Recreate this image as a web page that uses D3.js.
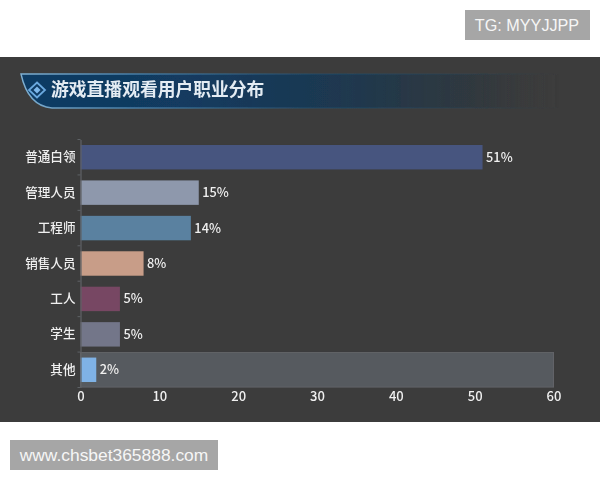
<!DOCTYPE html>
<html><head><meta charset="utf-8">
<script src="https://cdn.jsdelivr.net/npm/d3@7/dist/d3.min.js"></script>
<style>html,body{margin:0;padding:0;background:#fff}svg{display:block}</style></head>
<body><svg id="c" width="600" height="480"></svg>
<script>
const categories = ["普通白领","管理人员","工程师","销售人员","工人","学生","其他"];
const values = [51,15,14,8,5,5,2];
const colors = ["#47557f","#8e98ac","#5a81a0","#c89d88","#774763","#737689","#7fb2e6"];
const xTicks = [0,10,20,30,40,50,60];
const highlight = "其他";
const xMax = 60;
const title = "游戏直播观看用户职业分布";
const tagTop = "TG: MYYJJPP";
const tagBottom = "www.chsbet365888.com";
const cjk = "'Noto Sans CJK SC','Noto Sans',sans-serif";

const svg = d3.select("#c");
const defs = svg.append("defs");
const g1 = defs.append("linearGradient").attr("id","banner");
[[0,"#0f3a63",1],[0.3,"#123a60",1],[0.6,"#1b3850",0.95],[0.85,"#2d373f",0.7],[1,"#3a3a3a",0]].forEach(s=>g1.append("stop").attr("offset",s[0]).attr("stop-color",s[1]).attr("stop-opacity",s[2]));
const g2 = defs.append("linearGradient").attr("id","edge");
[[0,"#7fb0d2",1],[0.2,"#4c86b0",.9],[0.55,"#24506f",.5],[1,"#24506f",0]].forEach(s=>g2.append("stop").attr("offset",s[0]).attr("stop-color",s[1]).attr("stop-opacity",s[2]));
const blur = defs.append("filter").attr("id","soft").attr("x","-5%").attr("y","-5%").attr("width","110%").attr("height","110%");
blur.append("feGaussianBlur").attr("stdDeviation",0.45);

svg.append("rect").attr("x",0).attr("y",57).attr("width",600).attr("height",365).attr("fill","#3c3c3c");

// banner
const banner = svg.append("g").attr("filter","url(#soft)");
banner.append("path").attr("d","M21 74 H560 V108 H52 Q28 106 21 74 Z").attr("fill","url(#banner)");
banner.append("path").attr("d","M560 74 H21 Q28 106 52 108 H560").attr("fill","none").attr("stroke","url(#edge)").attr("stroke-width",1.4);
banner.append("path").attr("d","M37 82.5 L45 90 L37 97.5 L29 90 Z").attr("fill","none").attr("stroke","#6aa9df").attr("stroke-width",1.8);
banner.append("path").attr("d","M37 86.5 L40.5 90 L37 93.5 L33.5 90 Z").attr("fill","#7db7ea");
banner.append("text").attr("x",51).attr("y",96).attr("font-family",cjk).attr("font-size",17.8).attr("font-weight",700).attr("fill","#e4ecf3").text(title);

// chart
const x = d3.scaleLinear().domain([0,xMax]).range([80.5,553.5]);
const y = d3.scaleBand().domain(categories).range([139.5,387.5]).paddingInner(0.31).paddingOuter(0.155);
const chart = svg.append("g").attr("filter","url(#soft)");

const step = y.step();
chart.selectAll("rect.bg").data(categories.filter(c=>c===highlight)).join("rect").attr("class","bg")
  .attr("x",x(0)).attr("width",x(xMax)-x(0))
  .attr("y",c=>y(c)+y.bandwidth()/2-17.3).attr("height",34.6)
  .attr("fill","#575a5e").attr("stroke","#626467").attr("stroke-width",1);

chart.selectAll("rect.bar").data(categories).join("rect").attr("class","bar")
  .attr("x",x(0)).attr("y",c=>y(c))
  .attr("width",(c,i)=>x(values[i])-x(0)).attr("height",y.bandwidth())
  .attr("fill",(c,i)=>colors[i]);

chart.selectAll("text.val").data(categories).join("text").attr("class","val")
  .attr("x",(c,i)=>x(values[i])+3.5).attr("y",c=>y(c)+y.bandwidth()/2+4.5)
  .attr("font-family",cjk).attr("font-size",12.8).attr("font-weight",500).attr("fill","#f0f0f0")
  .text((c,i)=>values[i]+"%");

const yAxis = chart.append("g").attr("transform","translate(80.5,0)").call(d3.axisLeft(y).tickSize(0).tickPadding(5));
yAxis.select(".domain").attr("stroke","#5f6266").attr("stroke-width",1.2);
yAxis.selectAll("text").attr("font-family",cjk).attr("font-size",12.6).attr("font-weight",500).attr("fill","#f0f0f0");
chart.selectAll("line.sep").data(d3.range(categories.length+1)).join("line").attr("class","sep")
  .attr("x1",77.5).attr("x2",80.5)
  .attr("y1",i=>139.5+i*step).attr("y2",i=>139.5+i*step)
  .attr("stroke","#5f6266");

const xAxis = chart.append("g").attr("transform","translate(0,387)").call(d3.axisBottom(x).tickValues(xTicks).tickSize(0).tickPadding(5));
xAxis.select(".domain").remove();
xAxis.selectAll("text").attr("font-family",cjk).attr("font-size",13).attr("font-weight",500).attr("fill","#f0f0f0");

// watermarks
svg.append("rect").attr("x",465).attr("y",10).attr("width",125).attr("height",30).attr("fill","#a6a6a6");
svg.append("text").attr("x",527).attr("y",31).attr("text-anchor","middle").attr("font-family","'Liberation Sans',sans-serif").attr("font-size",16.2).attr("fill","#f6f6f6").text(tagTop);
svg.append("rect").attr("x",10).attr("y",440).attr("width",208).attr("height",30).attr("fill","#a6a6a6");
svg.append("text").attr("x",114).attr("y",461).attr("text-anchor","middle").attr("font-family","'Liberation Sans',sans-serif").attr("font-size",17.4).attr("fill","#f6f6f6").text(tagBottom);
</script></body></html>
